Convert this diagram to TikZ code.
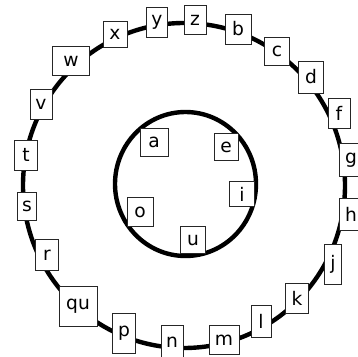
\documentclass[tikz,border=0pt]{standalone}
\usepackage{fontspec}
\setmainfont{DejaVu Sans}
\tikzset{
  ring/.style={line width=3.3pt, black},
  letterbox/.style={draw=black!85, line width=0.75pt, fill=white, inner sep=0pt,
    font=\fontsize{14}{14}\selectfont},
}
\begin{document}
\begin{tikzpicture}[x=0.75pt,y=-0.75pt]
\useasboundingbox (0,0) rectangle (358,357);
\clip (0,0) rectangle (358,357);
% rings
\draw[ring] (184,185.5) ellipse [x radius=161, y radius=162.5];
\draw[ring] (185.5,184) ellipse [x radius=70.5, y radius=72];
% outer letters
\node[letterbox, minimum width=21*0.75pt, minimum height=30*0.75pt] (ny) at (157,22) {y};
\node[letterbox, minimum width=24*0.75pt, minimum height=26*0.75pt] (nx) at (115,34) {x};
\node[letterbox, minimum width=37*0.75pt, minimum height=29*0.75pt] (nw) at (71,61) {w};
\node[letterbox, minimum width=22*0.75pt, minimum height=30*0.75pt] (nv) at (41,104) {v};
\node[letterbox, minimum width=23*0.75pt, minimum height=30*0.75pt] (nt) at (26,155) {t};
\node[letterbox, minimum width=19*0.75pt, minimum height=28*0.75pt] (ns) at (27,206) {s};
\node[letterbox, minimum width=23*0.75pt, minimum height=31*0.75pt] (nr) at (47,255) {r};
\node[letterbox, minimum width=38*0.75pt, minimum height=40*0.75pt] (nqu) at (78,306) {qu};
\node[letterbox, minimum width=23*0.75pt, minimum height=40*0.75pt] (np) at (124,333) {p};
\node[letterbox, minimum width=22*0.75pt, minimum height=34*0.75pt] (nn) at (172,342) {n};
\node[letterbox, minimum width=30*0.75pt, minimum height=29*0.75pt] (nm) at (224,340) {m};
\node[letterbox, minimum width=20*0.75pt, minimum height=32*0.75pt] (nl) at (261,321) {l};
\node[letterbox, minimum width=23*0.75pt, minimum height=30*0.75pt] (nk) at (297,298) {k};
\node[letterbox, minimum width=17*0.75pt, minimum height=40*0.75pt] (nj) at (333,264) {j};
\node[letterbox, minimum width=24*0.75pt, minimum height=32*0.75pt] (nh) at (351,214) {h};
\node[letterbox, minimum width=24*0.75pt, minimum height=33*0.75pt] (ng) at (351,160) {g};
\node[letterbox, minimum width=22*0.75pt, minimum height=30*0.75pt] (nf) at (339,113) {f};
\node[letterbox, minimum width=25*0.75pt, minimum height=32*0.75pt] (nd) at (311,77) {d};
\node[letterbox, minimum width=25*0.75pt, minimum height=28*0.75pt] (nc) at (277,51) {c};
\node[letterbox, minimum width=26*0.75pt, minimum height=30*0.75pt] (nb) at (238,29) {b};
\node[letterbox, minimum width=22*0.75pt, minimum height=29*0.75pt] (nz) at (195,20) {z};
% inner letters
\node[letterbox, minimum width=28*0.75pt, minimum height=28*0.75pt] (na) at (154,142) {a};
\node[letterbox, minimum width=24*0.75pt, minimum height=27*0.75pt] (ne) at (226,147) {e};
\node[letterbox, minimum width=25*0.75pt, minimum height=25*0.75pt] (ni) at (242,194) {i};
\node[letterbox, minimum width=25*0.75pt, minimum height=27*0.75pt] (nu) at (193,240) {u};
\node[letterbox, minimum width=26*0.75pt, minimum height=29*0.75pt] (no) at (140,212) {o};
\end{tikzpicture}
\end{document}
